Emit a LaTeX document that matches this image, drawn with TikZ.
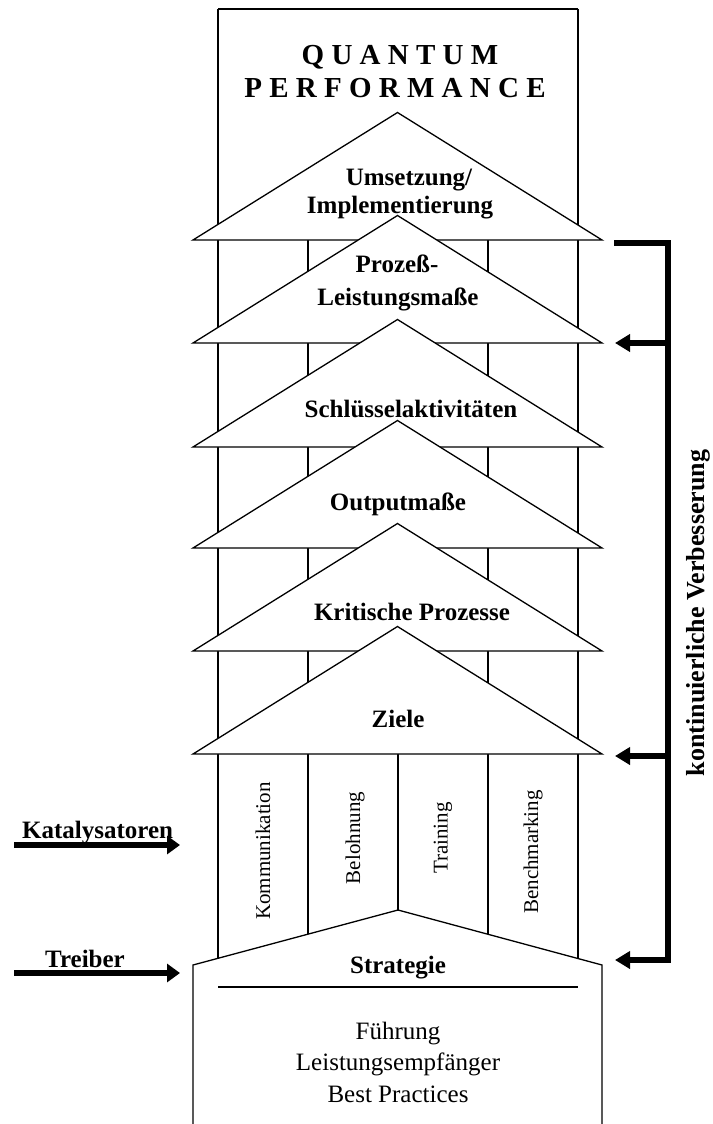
\documentclass[tikz,border=0pt]{standalone}
\usepackage{fontspec}
\setmainfont{Liberation Serif}
\usetikzlibrary{arrows.meta}

\begin{document}
\begin{tikzpicture}[x=1pt,y=-1pt,
  frame/.style={draw=black, line width=1.3pt},
  roof/.style={draw=black, fill=white, line width=1.3pt, line join=miter},
  layer/.style={font=\fontsize{25}{29}\selectfont\bfseries, inner sep=0pt, anchor=base},
  plain/.style={font=\fontsize{25}{29}\selectfont, inner sep=0pt, anchor=base},
  title/.style={font=\fontsize{29}{33}\selectfont\bfseries, inner sep=0pt, anchor=base},
  pillarlabel/.style={font=\fontsize{21}{25}\selectfont, rotate=90, inner sep=0pt},
  bar/.style={line width=6pt, line join=miter},
  leftarrow/.style={line width=6pt, -{Triangle[length=13pt,width=18pt]}},
  backarrow/.style={line width=6pt, line join=miter, -{Triangle[length=15pt,width=17pt]}},
]
\useasboundingbox (0,0) rectangle (712,1124);
\fill[white] (0,0) rectangle (712,1124);

% columns and top box
\draw[frame] (218,9) -- (578,9);
\draw[frame] (218,9) -- (218,958.3);
\draw[frame] (578,9) -- (578,958.3);
\draw[frame] (308,240) -- (308,934);
\draw[frame] (488,240) -- (488,934);
\draw[frame] (398,240) -- (398,910);

% foundation house
\draw[frame, line join=miter] (193,1126) -- (193,965) -- (398,910) -- (602,965) -- (602,1126);
\draw[frame] (218,987) -- (578,987);

% stacked roofs, each drawn over the one above
\foreach \b in {240,343,447,548,651,754}
  \draw[roof] (193,\b) -- (397.5,\b-127.5) -- (602,\b) -- cycle;

% title
\node[title] (q1) at (400,64) {Q U A N T U M};
\node[title] (q2) at (395,97) {P E R F O R M A N C E};

% roof labels
\node[layer] (u1) at (409,185) {Umsetzung/};
\node[layer] (u2) at (400,213) {Implementierung};
\node[layer] (p1) at (397,272) {Prozeß-};
\node[layer] (p2) at (398,305) {Leistungsmaße};
\node[layer] (s1) at (411,417) {Schlüsselaktivitäten};
\node[layer] (o1) at (398,510) {Outputmaße};
\node[layer] (k1) at (412,620) {Kritische Prozesse};
\node[layer] (z1) at (398,727) {Ziele};

% pillar labels
\node[pillarlabel] (c1) at (263,851) {Kommunikation};
\node[pillarlabel] (c2) at (355,838) {Belohnung};
\node[pillarlabel] (c3) at (443,838) {Training};
\node[pillarlabel] (c4) at (533,852) {Benchmarking};

% foundation labels
\node[layer] (st) at (398,973) {Strategie};
\node[plain] (f1) at (398,1039) {Führung};
\node[plain] (f2) at (398,1070) {Leistungsempfänger};
\node[plain] (f3) at (398,1102) {Best Practices};

% inputs from the left
\node[layer, anchor=base west] (kat) at (22,838) {Katalysatoren};
\coordinate (katS) at (14,845);
\coordinate (katE) at (180,845);
\draw[leftarrow] (katS) -- (katE);

\node[layer] (tr) at (85,967) {Treiber};
\coordinate (trS) at (14,973);
\coordinate (trE) at (180,973);
\draw[leftarrow] (trS) -- (trE);

% feedback bracket on the right
\coordinate (kvA) at (614,242.5);
\coordinate (kvB) at (668,242.5);
\coordinate (kvC) at (668,960);
\coordinate (kvD) at (615,960);
\draw[backarrow] (kvA) -- (kvB) -- (kvC) -- (kvD);
\coordinate (kvM1) at (668,343);
\coordinate (kvT1) at (615,343);
\draw[backarrow] (kvM1) -- (kvT1);
\coordinate (kvM2) at (668,756);
\coordinate (kvT2) at (615,756);
\draw[backarrow] (kvM2) -- (kvT2);

\node[font=\fontsize{26}{30}\selectfont\bfseries, rotate=90, inner sep=0pt] (kv) at (698,613) {kontinuierliche Verbesserung};
\end{tikzpicture}
\end{document}
